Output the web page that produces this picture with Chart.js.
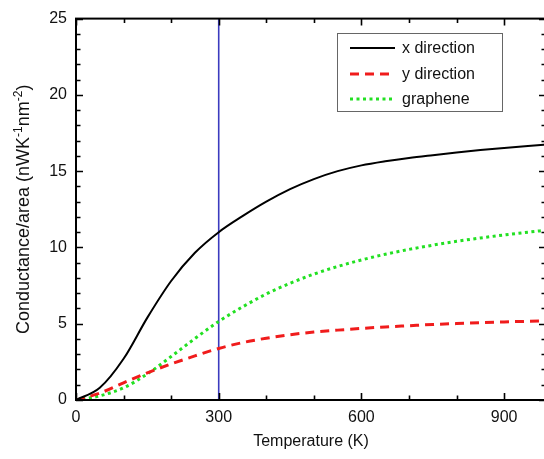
<!DOCTYPE html>
<html>
<head>
<meta charset="utf-8">
<script src="https://cdn.jsdelivr.net/npm/chart.js@4/dist/chart.umd.min.js"></script>
<style>
  html, body { margin: 0; padding: 0; background: #fff; overflow: hidden; }
  #wrap { position: absolute; left: 0; top: 0; width: 548px; height: 459px; }
</style>
</head>
<body>
<div id="wrap"><canvas id="c" width="548" height="459"></canvas></div>
<script>
// ---- data ----
const temperature = [0, 50, 100, 150, 200, 250, 300, 350, 400, 450, 500,
                     550, 600, 650, 700, 750, 800, 850, 900, 950, 1000];
const xDirection  = [0, 0.8, 2.7, 5.4, 7.8, 9.65, 11.0, 12.05, 13.0, 13.82, 14.48,
                     15.0, 15.38, 15.65, 15.87, 16.05, 16.22, 16.38, 16.52, 16.65, 16.77];
const yDirection  = [0, 0.45, 1.13, 1.78, 2.36, 2.89, 3.38, 3.76, 4.05, 4.28, 4.45,
                     4.58, 4.69, 4.79, 4.87, 4.95, 5.01, 5.07, 5.12, 5.16, 5.2];
const graphene    = [0, 0.27, 0.8, 1.71, 2.85, 4.03, 5.15, 6.1, 6.95, 7.65, 8.25,
                     8.75, 9.18, 9.55, 9.87, 10.15, 10.4, 10.62, 10.82, 11.0, 11.17];
const seriesLabels = ['x direction', 'y direction', 'graphene'];
const markerTemperature = 300;
const xTicks = [0, 300, 600, 900];
const yTicks = [0, 5, 10, 15, 20, 25];
const xMinorStep = 100;
const yMinorStep = 1;
const xRange = [0, 988];
const yRange = [0, 25];
const xTitle = 'Temperature (K)';
const yTitleParts = [['Conductance/area (nWK', false], ['-1', true], ['nm', false], ['-2', true], [')', false]];

const FONT = '"Liberation Sans", Arial, sans-serif';

const pts = (arr) => temperature.map((t, i) => ({ x: t, y: arr[i] }));

const decorPlugin = {
  id: 'decor',
  afterDatasetsDraw(chart) {
    const ctx = chart.ctx;
    const a = chart.chartArea;
    const xs = chart.scales.x, ys = chart.scales.y;
    ctx.save();
    // frame
    ctx.strokeStyle = '#000';
    ctx.lineWidth = 2;
    ctx.strokeRect(a.left, a.top, a.right - a.left, a.bottom - a.top);
    // ticks (inward, all four sides)
    ctx.lineWidth = 1.6;
    ctx.beginPath();
    for (let v = xRange[0]; v <= xRange[1] + 1e-9; v += xMinorStep) {
      const major = xTicks.includes(v);
      const L = major ? 7 : 4.5;
      const px = Math.round(xs.getPixelForValue(v)) + 0.5;
      ctx.moveTo(px, a.bottom); ctx.lineTo(px, a.bottom - L);
      ctx.moveTo(px, a.top); ctx.lineTo(px, a.top + L);
    }
    for (let v = yRange[0]; v <= yRange[1] + 1e-9; v += yMinorStep) {
      const major = yTicks.includes(v);
      const L = major ? 7 : 4.5;
      const py = Math.round(ys.getPixelForValue(v)) + 0.5;
      ctx.moveTo(a.left, py); ctx.lineTo(a.left + L, py);
      ctx.moveTo(a.right, py); ctx.lineTo(a.right - L, py);
    }
    ctx.stroke();

    // legend box
    const bx = 337, by = 33, bw = 165, bh = 78;
    ctx.fillStyle = '#fff';
    ctx.fillRect(bx, by, bw, bh);
    ctx.strokeStyle = '#666';
    ctx.lineWidth = 1;
    ctx.strokeRect(bx + 0.5, by + 0.5, bw, bh);
    ctx.font = '16px ' + FONT;
    ctx.textBaseline = 'middle';
    ctx.textAlign = 'left';
    const rows = [48, 74, 99];
    chart.data.datasets.slice(0, 3).forEach((ds, i) => {
      ctx.save();
      ctx.strokeStyle = ds.borderColor;
      ctx.lineWidth = ds.borderWidth;
      ctx.setLineDash(ds.borderDash || []);
      ctx.beginPath();
      ctx.moveTo(350, rows[i]); ctx.lineTo(395, rows[i]);
      ctx.stroke();
      ctx.restore();
      ctx.fillStyle = '#111';
      ctx.fillText(ds.label, 402, rows[i] + 1);
    });

    // x title
    ctx.fillStyle = '#111';
    ctx.textAlign = 'center';
    ctx.textBaseline = 'middle';
    ctx.font = '16px ' + FONT;
    ctx.fillText(xTitle, (a.left + a.right) / 2, 442);

    // y title with superscripts
    const mainFont = '18px ' + FONT, supFont = '12px ' + FONT;
    let total = 0;
    const widths = yTitleParts.map(([t, sup]) => {
      ctx.font = sup ? supFont : mainFont;
      const w = ctx.measureText(t).width;
      total += w;
      return w;
    });
    ctx.save();
    ctx.translate(29, (a.top + a.bottom) / 2);
    ctx.rotate(-Math.PI / 2);
    ctx.textAlign = 'left';
    ctx.textBaseline = 'alphabetic';
    let cx = -total / 2;
    yTitleParts.forEach(([t, sup], i) => {
      ctx.font = sup ? supFont : mainFont;
      ctx.fillText(t, cx, sup ? -7 : 0);
      cx += widths[i];
    });
    ctx.restore();
    ctx.restore();
  }
};

new Chart(document.getElementById('c'), {
  type: 'line',
  data: {
    datasets: [
      { label: seriesLabels[0], data: pts(xDirection), borderColor: '#000000', borderWidth: 2,
        pointRadius: 0, cubicInterpolationMode: 'monotone', fill: false },
      { label: seriesLabels[1], data: pts(yDirection), borderColor: '#f01c1c', borderWidth: 3, borderDash: [9, 6],
        pointRadius: 0, cubicInterpolationMode: 'monotone', fill: false },
      { label: seriesLabels[2], data: pts(graphene), borderColor: '#22e022', borderWidth: 3, borderDash: [3, 3.5],
        pointRadius: 0, cubicInterpolationMode: 'monotone', fill: false },
      { label: 'marker', data: [{ x: markerTemperature, y: yRange[0] }, { x: markerTemperature, y: yRange[1] }],
        borderColor: '#3b3bbf', borderWidth: 1.6, pointRadius: 0, fill: false }
    ]
  },
  options: {
    responsive: false,
    animation: false,
    devicePixelRatio: 1,
    layout: { padding: { top: 14, right: 2, left: 0, bottom: 0 } },
    plugins: { legend: { display: false }, tooltip: { enabled: false } },
    scales: {
      x: {
        type: 'linear', min: xRange[0], max: xRange[1],
        grid: { display: false, drawTicks: false },
        border: { display: false },
        afterBuildTicks: (s) => { s.ticks = xTicks.map(v => ({ value: v })); },
        afterFit: (s) => { s.height = 59; },
        ticks: { font: { family: FONT, size: 16 }, color: '#111', padding: 8, maxRotation: 0 }
      },
      y: {
        type: 'linear', min: yRange[0], max: yRange[1],
        grid: { display: false, drawTicks: false },
        border: { display: false },
        afterBuildTicks: (s) => { s.ticks = yTicks.map(v => ({ value: v })); },
        afterFit: (s) => { s.width = 76; },
        ticks: { font: { family: FONT, size: 16 }, color: '#111', padding: 9 }
      }
    }
  },
  plugins: [decorPlugin]
});
</script>
</body>
</html>
